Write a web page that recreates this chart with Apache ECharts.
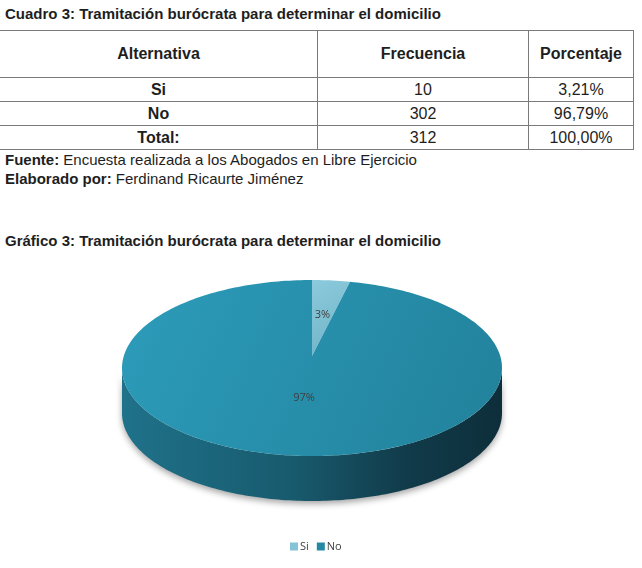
<!DOCTYPE html>
<html>
<head>
<meta charset="utf-8">
<script src="https://cdn.jsdelivr.net/npm/echarts@6/dist/echarts.min.js"></script>
<style>
  body{ margin:0; width:642px; height:568px; background:#fff; font-family:"Liberation Sans", Arial, sans-serif; color:#1e1e1e; position:relative; overflow:hidden; }
  .txt{ position:absolute; left:5px; white-space:nowrap; line-height:17px; }
  #cuadro{ top:5px; font-size:15px; font-weight:bold; }
  #tabla{ position:absolute; left:0; top:30px; border-collapse:collapse; font-size:16px; }
  #tabla td{ border:1px solid #7a7a7a; text-align:center; padding:0; height:23px; }
  #tabla tr td:first-child{ border-left:none; font-weight:bold; }
  #tabla tr.head td{ height:46px; font-weight:bold; }
  #fuente{ top:151px; font-size:15px; }
  #elaborado{ top:170px; font-size:15px; }
  #grafico{ top:232px; font-size:15px; font-weight:bold; }
  #chart{ position:absolute; left:0; top:250px; width:642px; height:318px; }
</style>
</head>
<body>
<div class="txt" id="cuadro">Cuadro 3: Tramitación burócrata para determinar el domicilio</div>
<table id="tabla"></table>
<div class="txt" id="fuente"><b>Fuente:</b> Encuesta realizada a los Abogados en Libre Ejercicio</div>
<div class="txt" id="elaborado"><b>Elaborado por:</b> Ferdinand Ricaurte Jiménez</div>
<div class="txt" id="grafico">Gráfico 3: Tramitación burócrata para determinar el domicilio</div>
<div id="chart"></div>
<script>
// datos del cuadro
var headers = ['Alternativa', 'Frecuencia', 'Porcentaje'];
var categories = ['Si', 'No'];
var frecuencias = [10, 302];
var porcentajes = ['3,21%', '96,79%'];
var totalLabel = ['Total:', '312', '100,00%'];
var pieLabels = ['3%', '97%'];

// tabla
var colW = [317, 210, 104];
var html = '<tr class="head">';
headers.forEach(function(h, i){ html += '<td style="width:' + colW[i] + 'px">' + h + '</td>'; });
html += '</tr>';
categories.forEach(function(c, i){
  html += '<tr><td>' + c + '</td><td>' + frecuencias[i] + '</td><td>' + porcentajes[i] + '</td></tr>';
});
html += '<tr><td>' + totalLabel[0] + '</td><td>' + totalLabel[1] + '</td><td>' + totalLabel[2] + '</td></tr>';
document.getElementById('tabla').innerHTML = html;

// grafico 3d simulado
var total = frecuencias.reduce(function(a, b){ return a + b; }, 0);
var CX = 312, CY = 118, RX = 190, RY = 88, DEPTH = 45, APEX = -12;
var labelR = [0.55, 0.42];
var topColors = [
  ['#8ccadc', '#6fb2c7'],
  ['#2c9cba', '#22819b']
];
var legendColors = ['#86c3d6', '#2589a5'];

function arcPts(a, b, dy){
  var pts = [], n = Math.max(2, Math.ceil(Math.abs(b - a) / 0.02));
  for (var k = 0; k <= n; k++) {
    var t = a + (b - a) * k / n;
    pts.push([CX + RX * Math.cos(t), CY + dy + RY * Math.sin(t)]);
  }
  return pts;
}

function renderSlice(params, api){
  var idx = params.seriesIndex;
  var before = 0;
  for (var i = 0; i < idx; i++) before += frecuencias[i];
  var a = -Math.PI / 2 + 2 * Math.PI * before / total;
  var b = a + 2 * Math.PI * api.value(0) / total;
  var children = [];
  // cara lateral visible (mitad frontal)
  [-2 * Math.PI, 0, 2 * Math.PI].forEach(function(k){
    var lo = Math.max(a, k), hi = Math.min(b, k + Math.PI);
    if (hi > lo) {
      var pts = arcPts(lo, hi, 0).concat(arcPts(hi, lo, DEPTH));
      children.push({
        type: 'polygon',
        shape: { points: pts },
        style: {
          fill: new echarts.graphic.LinearGradient(0, 0, 1, 0, [
            { offset: 0, color: '#1f728a' },
            { offset: 0.45, color: '#185a6d' },
            { offset: 0.75, color: '#113b4a' },
            { offset: 1, color: '#0d2e3a' }
          ]),
          shadowColor: 'rgba(0,0,0,0.35)', shadowBlur: 6, shadowOffsetY: 3
        }
      });
    }
  });
  // cara superior
  var apex = [CX, CY + APEX];
  var topPts = [apex].concat(arcPts(a, b, 0));
  children.push({
    type: 'polygon',
    shape: { points: topPts },
    style: {
      fill: new echarts.graphic.LinearGradient(0, 0, 1, 1, [
        { offset: 0, color: topColors[idx][0] },
        { offset: 1, color: topColors[idx][1] }
      ])
    }
  });
  // etiqueta
  var mid = (a + b) / 2;
  var ex = CX + RX * Math.cos(mid), ey = CY + RY * Math.sin(mid);
  children.push({
    type: 'text',
    x: apex[0] + labelR[idx] * (ex - apex[0]),
    y: apex[1] + labelR[idx] * (ey - apex[1]),
    style: {
      text: pieLabels[idx], fill: '#404040', fontSize: 11,
      fontFamily: 'Open Sans', align: 'center', verticalAlign: 'middle'
    }
  });
  return { type: 'group', children: children };
}

var chart = echarts.init(document.getElementById('chart'));
chart.setOption({
  animation: false,
  legend: {
    data: categories,
    left: 285, top: 286,
    icon: 'rect', itemWidth: 8, itemHeight: 8, itemGap: 8,
    textStyle: { color: '#404040', fontSize: 11, fontFamily: 'Open Sans', padding: [0, 0, 0, -3] }
  },
  series: categories.map(function(c, i){
    return {
      name: c,
      type: 'custom',
      coordinateSystem: 'none',
      itemStyle: { color: legendColors[i] },
      renderItem: renderSlice,
      data: [[frecuencias[i]]]
    };
  })
});
</script>
</body>
</html>
